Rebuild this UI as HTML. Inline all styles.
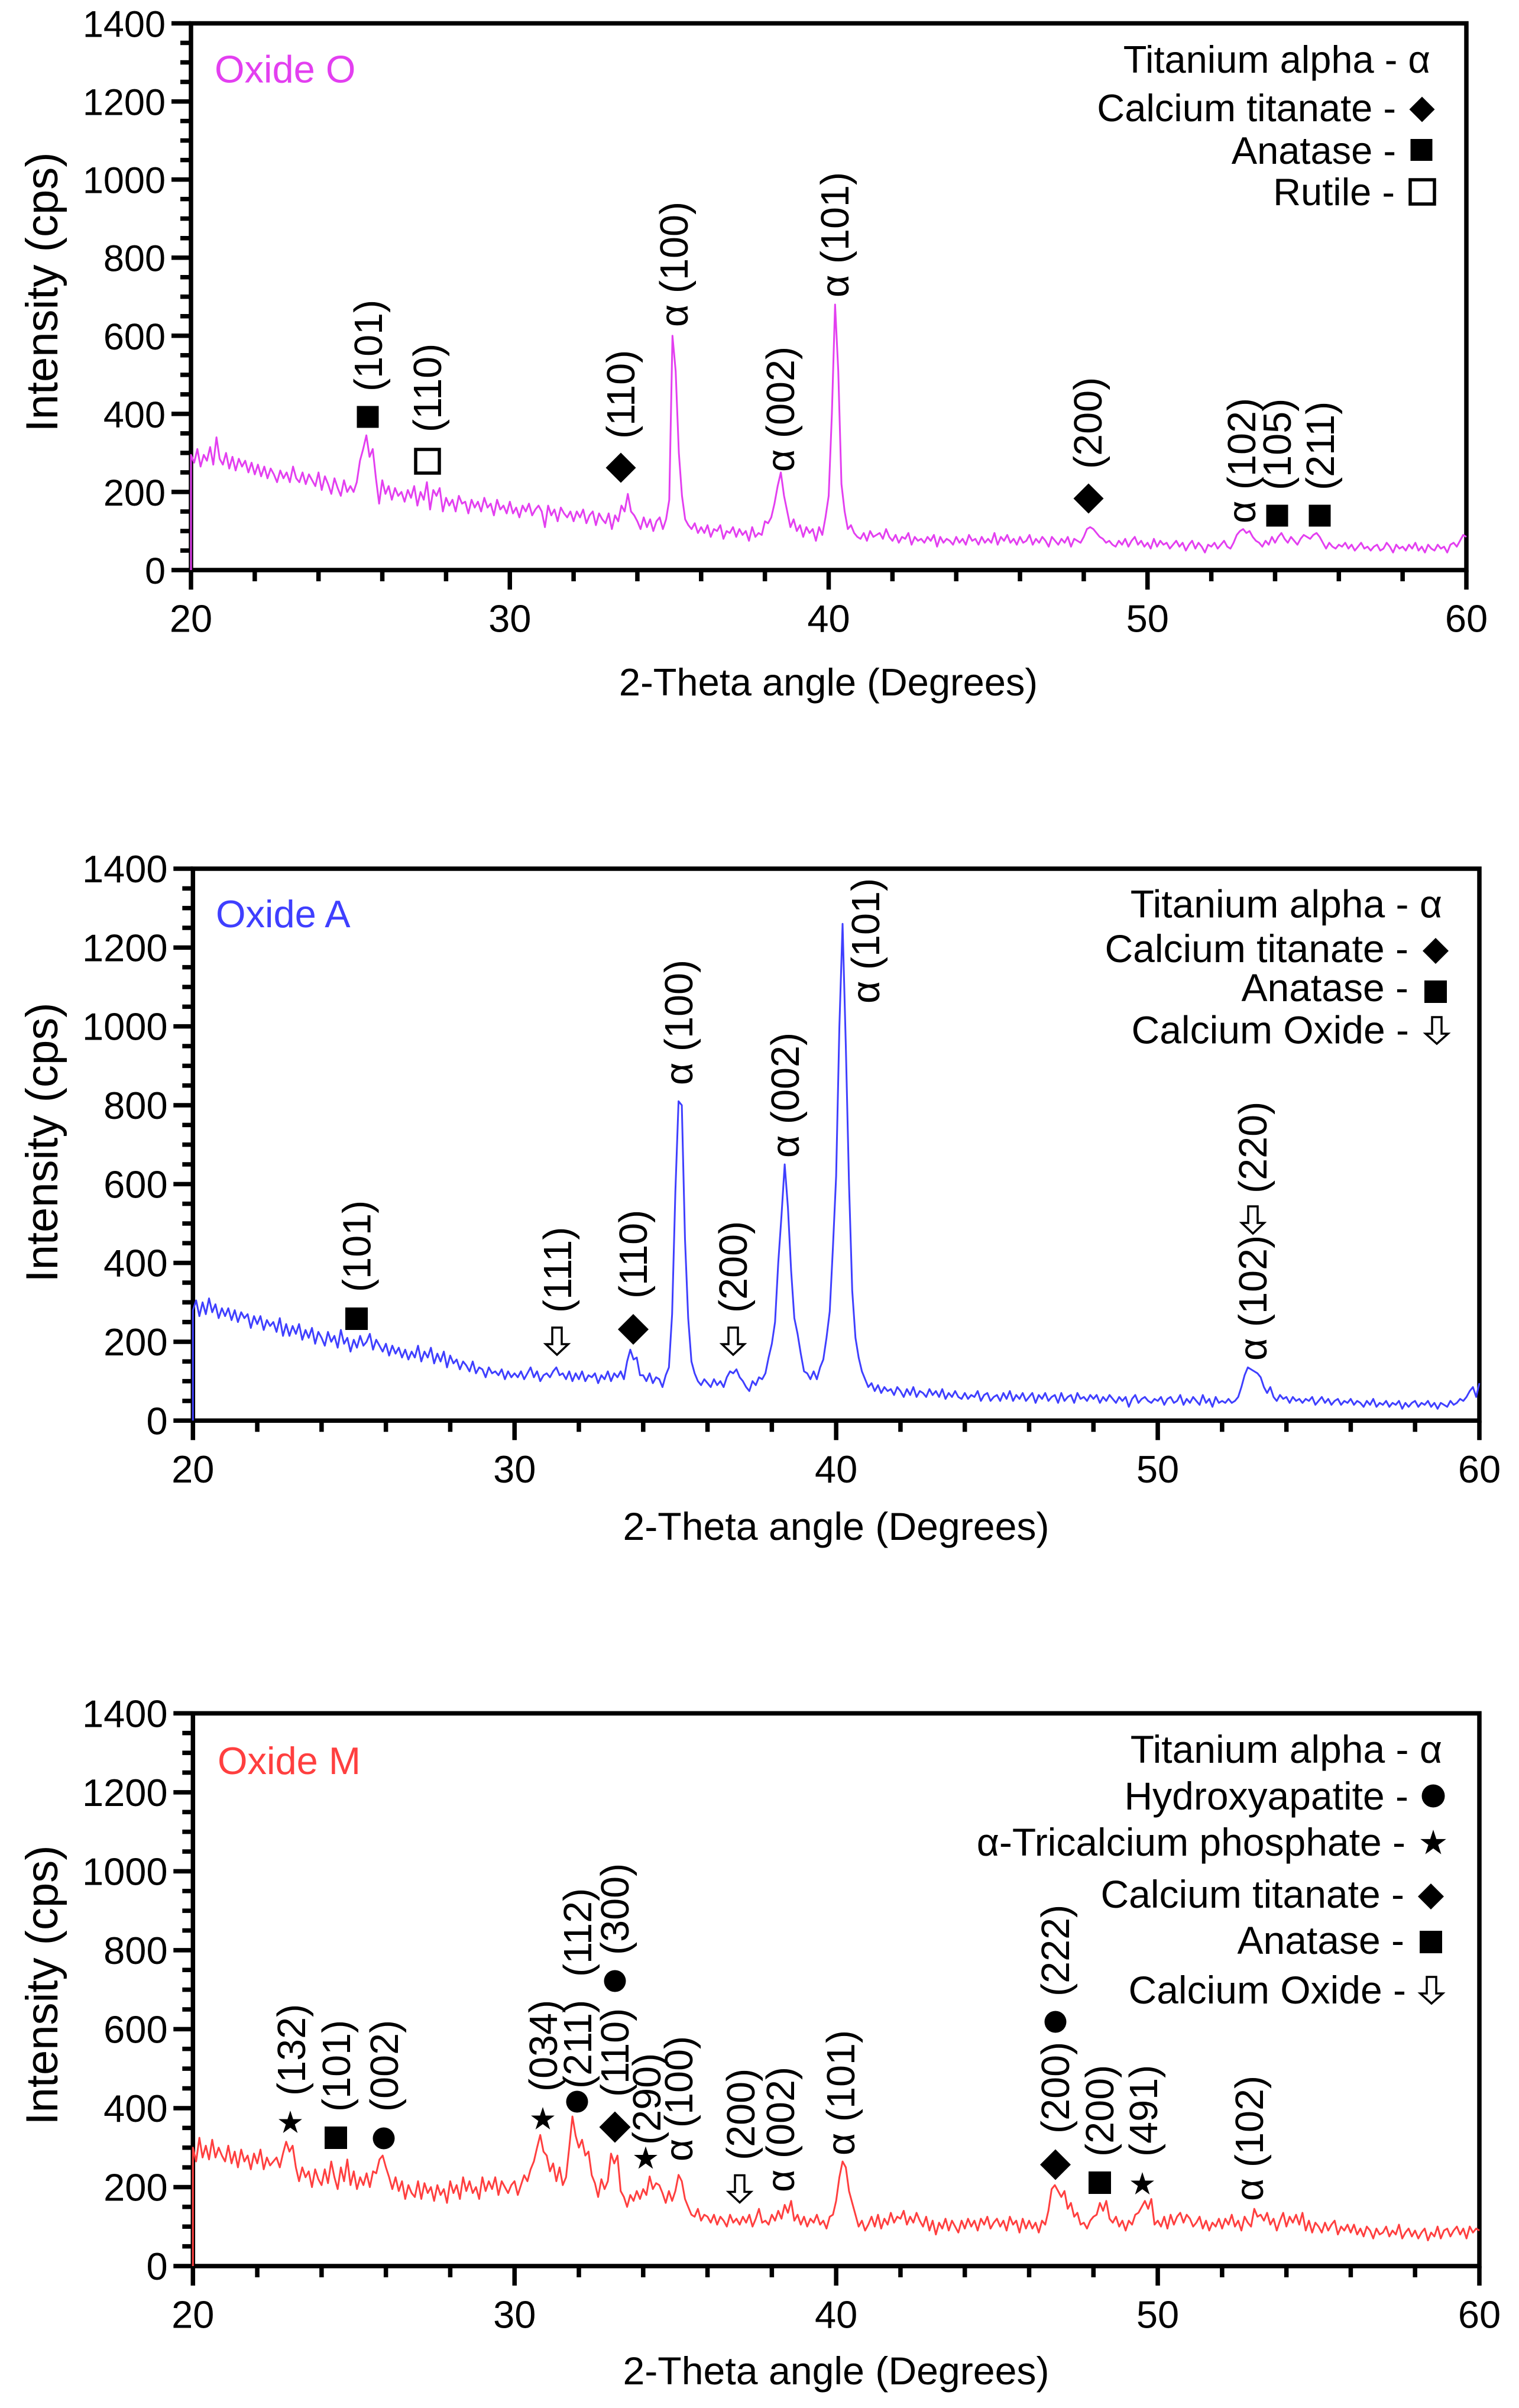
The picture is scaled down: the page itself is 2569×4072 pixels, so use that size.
<!DOCTYPE html>
<html lang="en">
<head>
<meta charset="utf-8">
<title>XRD patterns of Oxide O, A and M</title>
<style>
html,body{margin:0;padding:0;background:#fff;}
svg{display:block;}
text{font-family:"Liberation Sans",Arial,sans-serif;font-size:65px;fill:#000;}
text[transform*="rotate"]{font-size:66.5px;}
text.title-y{font-size:76px;text-anchor:middle;}
.title-x{text-anchor:middle;}
.title-x.wide{font-size:66.2px;}
.leg{text-anchor:end;}
.leg.wide{font-size:66px;}
.arrow{fill:#fff;stroke:#000;stroke-width:3.5;stroke-linejoin:miter;}
.open{fill:#fff;stroke:#000;stroke-width:5.5;}
</style>
</head>
<body>
<svg xmlns="http://www.w3.org/2000/svg" width="2569" height="4072" viewBox="0 0 2569 4072">
<rect width="2569" height="4072" fill="#fff"/>

<!-- PANEL O -->
<g id="chart-o"></g>
<g>
<text x="363" y="139.5" fill="#e33ff0" style="fill:#e33ff0">Oxide O</text>
<text class="title-y" transform="translate(97,494) rotate(-90)">Intensity (cps)</text>
<text class="title-x" x="1401" y="1176">2-Theta angle (Degrees)</text>
</g>
<g>
<text transform="translate(646,662) rotate(-90)">(101)</text>
<rect x="603.5" y="686.5" width="37" height="37"/>
<text transform="translate(746,731) rotate(-90)">(110)</text>
<rect class="open" x="703" y="760" width="40" height="40"/>
<text transform="translate(1073,742) rotate(-90)">(110)</text>
<polygon transform="translate(1050,791) scale(25.5)" points="0,-1 1,0 0,1 -1,0"/>
<text transform="translate(1163,553) rotate(-90)">α (100)</text>
<text transform="translate(1343,798) rotate(-90)">α (002)</text>
<text transform="translate(1435,503) rotate(-90)">α (101)</text>
<text transform="translate(1863,793) rotate(-90)">(200)</text>
<polygon transform="translate(1841,843) scale(25.5)" points="0,-1 1,0 0,1 -1,0"/>
<text transform="translate(2123,885) rotate(-90)">α (102)</text>
<text transform="translate(2183,829) rotate(-90)">(105)</text>
<rect x="2141.5" y="853.5" width="37" height="37"/>
<text transform="translate(2256,829) rotate(-90)">(211)</text>
<rect x="2213.5" y="853.5" width="37" height="37"/>
</g>
<g>
<text class="leg" x="2419" y="123">Titanium alpha - α</text>
<text class="leg" x="2361" y="205">Calcium titanate -</text>
<polygon transform="translate(2405,185) scale(21.5)" points="0,-1 1,0 0,1 -1,0"/>
<text class="leg" x="2361" y="277">Anatase -</text>
<rect x="2385.5" y="235" width="37" height="37"/>
<text class="leg" x="2359" y="347">Rutile -</text>
<rect class="open" x="2385" y="304" width="41" height="41"/>
</g>

<!-- PANEL A -->
<g id="chart-a"></g>
<g>
<text x="365" y="1568" style="fill:#3f3fff">Oxide A</text>
<text class="title-y" transform="translate(97,1932) rotate(-90)">Intensity (cps)</text>
<text class="title-x wide" x="1414" y="2604">2-Theta angle (Degrees)</text>
</g>
<g>
<text transform="translate(626.5,2185) rotate(-90)">(101)</text>
<rect x="584" y="2211" width="38" height="38"/>
<text transform="translate(966,2220) rotate(-90)">(111)</text>
<path class="arrow" transform="translate(942,2245)" d="M-8,0H8V28H19L0,46L-19,28H-8Z"/>
<text transform="translate(1094,2196) rotate(-90)">(110)</text>
<polygon transform="translate(1071,2248) scale(26)" points="0,-1 1,0 0,1 -1,0"/>
<text transform="translate(1171,1835) rotate(-90)">α (100)</text>
<text transform="translate(1263,2220) rotate(-90)">(200)</text>
<path class="arrow" transform="translate(1240,2245)" d="M-8,0H8V28H19L0,46L-19,28H-8Z"/>
<text transform="translate(1351,1958) rotate(-90)">α (002)</text>
<text transform="translate(1487,1697) rotate(-90)">α (101)</text>
<text transform="translate(2142,2301) rotate(-90)">α (102)</text>
<path class="arrow" transform="translate(2119,2040)" d="M-8,0H8V28H19L0,46L-19,28H-8Z"/>
<text transform="translate(2142,2018) rotate(-90)">(220)</text>
</g>
<g>
<text class="leg wide" x="2439" y="1551.5">Titanium alpha - α</text>
<text class="leg wide" x="2382" y="1627">Calcium titanate -</text>
<polygon transform="translate(2428,1608) scale(22)" points="0,-1 1,0 0,1 -1,0"/>
<text class="leg wide" x="2382" y="1693">Anatase -</text>
<rect x="2409" y="1658" width="38" height="38"/>
<text class="leg wide" x="2383" y="1764.5">Calcium Oxide -</text>
<path class="arrow" transform="translate(2430,1720)" d="M-8,0H8V28H19L0,45L-19,28H-8Z"/>
</g>

<!-- PANEL M -->
<g id="chart-m"></g>
<g>
<text x="368" y="3000" style="fill:#ff3f3f">Oxide M</text>
<text class="title-y" transform="translate(97,3357) rotate(-90)">Intensity (cps)</text>
<text class="title-x wide" x="1414" y="4032">2-Theta angle (Degrees)</text>
</g>
<g>
<text transform="translate(516,3544) rotate(-90)">(132)</text>
<polygon transform="translate(491,3590) scale(21)" points="0,-1 .225,-.309 .951,-.309 .363,.118 .588,.809 0,.382 -.588,.809 -.363,.118 -.951,-.309 -.225,-.309"/>
<text transform="translate(592,3571) rotate(-90)">(101)</text>
<rect x="549" y="3596" width="38" height="38"/>
<text transform="translate(673,3571) rotate(-90)">(002)</text>
<circle cx="649" cy="3616" r="18.5"/>
<text transform="translate(942,3537) rotate(-90)">(034)</text>
<polygon transform="translate(918,3584) scale(21)" points="0,-1 .225,-.309 .951,-.309 .363,.118 .588,.809 0,.382 -.588,.809 -.363,.118 -.951,-.309 -.225,-.309"/>
<text transform="translate(1000,3532) rotate(-90)">(211)</text>
<text transform="translate(1000,3343) rotate(-90)">(112)</text>
<circle cx="976" cy="3554" r="18.5"/>
<text transform="translate(1063,3546) rotate(-90)">(110)</text>
<text transform="translate(1063,3306) rotate(-90)">(300)</text>
<circle cx="1040" cy="3350" r="18.5"/>
<polygon transform="translate(1040,3597) scale(26.5)" points="0,-1 1,0 0,1 -1,0"/>
<text transform="translate(1117,3627) rotate(-90)">(290)</text>
<polygon transform="translate(1092,3650.5) scale(21)" points="0,-1 .225,-.309 .951,-.309 .363,.118 .588,.809 0,.382 -.588,.809 -.363,.118 -.951,-.309 -.225,-.309"/>
<text transform="translate(1171,3655) rotate(-90)">α (100)</text>
<text transform="translate(1276,3653) rotate(-90)">(200)</text>
<path class="arrow" transform="translate(1251,3678.5)" d="M-8,0H8V28H19L0,46L-19,28H-8Z"/>
<text transform="translate(1343,3707) rotate(-90)">α (002)</text>
<text transform="translate(1445,3645) rotate(-90)">α (101)</text>
<text transform="translate(1808,3376) rotate(-90)">(222)</text>
<circle cx="1785" cy="3419" r="18.5"/>
<text transform="translate(1808,3608) rotate(-90)">(200)</text>
<polygon transform="translate(1785,3660.5) scale(26)" points="0,-1 1,0 0,1 -1,0"/>
<text transform="translate(1883,3647) rotate(-90)">(200)</text>
<rect x="1841" y="3672" width="38" height="38"/>
<text transform="translate(1957,3647) rotate(-90)">(491)</text>
<polygon transform="translate(1932,3694) scale(21)" points="0,-1 .225,-.309 .951,-.309 .363,.118 .588,.809 0,.382 -.588,.809 -.363,.118 -.951,-.309 -.225,-.309"/>
<text transform="translate(2136,3722) rotate(-90)">α (102)</text>
</g>
<g>
<text class="leg wide" x="2439" y="2981">Titanium alpha - α</text>
<text class="leg wide" x="2382" y="3060">Hydroxyapatite -</text>
<circle cx="2424" cy="3037" r="19.5"/>
<text class="leg wide" x="2377" y="3138">α-Tricalcium phosphate -</text>
<polygon transform="translate(2424,3117) scale(23)" points="0,-1 .225,-.309 .951,-.309 .363,.118 .588,.809 0,.382 -.588,.809 -.363,.118 -.951,-.309 -.225,-.309"/>
<text class="leg wide" x="2375" y="3226">Calcium titanate -</text>
<polygon transform="translate(2420,3207) scale(22)" points="0,-1 1,0 0,1 -1,0"/>
<text class="leg wide" x="2375" y="3304">Anatase -</text>
<rect x="2401" y="3265" width="38" height="38"/>
<text class="leg wide" x="2378" y="3388">Calcium Oxide -</text>
<path class="arrow" transform="translate(2421,3343)" d="M-8,0H8V28H19L0,45L-19,28H-8Z"/>
</g>
</svg>

<script>
const xTickLabels = [20, 30, 40, 50, 60];
const yTickLabels = [0, 200, 400, 600, 800, 1000, 1200, 1400];
const xMinorStep = 2;
const yMinorStep = 50;
const thetaStart = 20;
const thetaStep = 0.1;
const baselineIntensity = 0;

const oxideOIntensity = [
295,275,310,265,295,280,315,270,340,285,
270,300,260,290,255,285,265,280,250,275,
245,270,240,265,235,260,245,225,255,235,
250,225,265,235,225,250,220,245,230,215,
250,205,240,220,195,235,210,190,230,200,
215,200,225,280,310,345,290,310,235,170,
230,195,215,180,210,190,200,175,205,185,
215,165,200,180,225,155,205,190,210,150,
185,165,180,150,190,170,175,145,180,160,
175,150,185,160,170,140,180,155,165,145,
175,145,160,135,165,150,170,140,155,165,
150,110,165,140,155,125,160,145,135,150,
125,150,135,155,120,140,150,115,145,130,
120,145,105,140,125,165,150,195,150,140,
125,105,135,110,130,100,125,135,105,130,
180,600,510,300,190,130,115,105,120,95,
110,95,115,85,105,100,115,80,100,95,
110,85,105,90,100,75,110,85,95,90,
125,120,135,170,215,250,190,150,110,130,
100,115,85,110,95,105,75,110,90,135,
190,400,680,510,220,150,105,115,95,85,
80,95,75,100,85,90,95,80,105,85,
75,90,70,85,80,95,65,85,75,80,
70,85,75,90,60,85,70,80,75,65,
85,70,80,65,90,75,80,65,85,70,
80,70,95,65,85,75,90,70,80,65,
85,70,75,90,65,80,70,85,75,60,
85,75,65,80,70,85,60,80,75,70,
85,105,110,105,95,85,80,70,75,65,
60,75,65,80,60,75,85,65,75,60,
70,55,80,60,75,65,70,55,65,75,
60,70,50,65,75,55,70,60,45,65,
60,70,55,65,75,60,55,70,90,100,
105,95,100,85,75,70,60,75,65,85,
70,85,95,80,70,85,75,65,80,90,
85,80,90,95,85,70,55,70,60,55,
65,60,70,55,65,50,60,70,55,60,
50,60,65,50,55,70,60,45,65,55,
60,50,65,55,70,50,60,45,65,55,
50,65,55,60,45,65,70,60,75,90,
85];

const oxideAIntensity = [
280,305,265,300,270,310,275,295,260,285,
265,285,255,280,250,275,260,270,235,265,
245,265,230,255,240,250,225,260,215,245,
215,240,220,245,205,230,210,235,195,225,
210,190,225,200,215,185,230,195,210,175,
205,185,215,190,200,220,180,205,190,175,
195,165,190,170,185,160,180,155,175,160,
190,150,175,160,185,145,170,150,175,135,
165,145,155,130,150,140,125,150,120,135,
130,110,135,120,125,115,130,105,125,110,
120,110,125,105,120,135,110,125,100,115,
120,110,125,135,115,120,105,125,100,120,
105,125,100,115,110,120,95,115,105,125,
100,120,110,125,105,150,180,155,160,115,
115,100,120,95,110,105,85,115,135,270,
580,810,800,460,260,150,120,100,90,105,
95,85,105,90,100,85,110,125,120,130,
110,100,85,75,100,90,110,105,120,160,
195,250,400,520,650,540,380,260,220,170,
125,120,105,125,105,135,155,210,277,440,
620,1000,1260,950,600,330,210,160,125,105,
85,95,75,90,70,85,75,80,65,85,
75,60,80,65,85,60,75,70,60,80,
65,75,60,80,55,70,60,75,60,55,
70,55,65,60,75,50,65,70,50,60,
65,50,70,55,75,50,65,55,70,50,
60,70,45,65,55,70,50,60,65,45,
70,50,60,65,45,70,55,60,50,65,
55,65,45,60,50,65,55,45,60,50,
60,35,55,65,45,55,60,50,45,55,
50,60,40,55,60,45,50,65,40,55,
45,60,50,40,65,45,55,35,60,45,
50,45,55,45,50,60,85,115,135,130,
125,120,110,85,70,85,60,50,65,55,
60,45,60,50,55,45,55,50,60,40,
50,60,45,55,40,50,55,40,50,45,
55,40,50,45,35,50,40,55,35,45,
40,50,35,45,40,50,30,45,35,45,
50,35,45,40,50,35,45,30,45,40,
35,50,40,45,55,50,60,75,85,60,
95];

const oxideMIntensity = [
300,265,325,275,305,270,320,275,300,280,
265,305,260,290,250,295,265,280,245,285,
260,295,245,275,255,265,275,250,285,315,
290,305,250,215,250,225,240,200,245,220,
205,245,210,265,225,195,250,215,270,205,
240,195,225,205,235,200,240,235,270,280,
250,225,195,225,190,215,170,205,185,175,
215,170,210,185,200,165,205,180,195,160,
215,185,205,170,225,190,215,185,200,170,
225,190,215,195,225,180,215,200,185,205,
215,180,205,230,215,245,265,300,332,290,
280,240,260,215,250,205,225,300,379,330,
300,320,280,290,230,210,175,220,195,215,
285,260,280,190,175,150,180,165,190,170,
195,180,227,195,210,205,185,160,190,165,
190,231,215,170,150,130,125,145,115,130,
125,110,130,105,125,115,100,130,110,120,
105,125,110,130,100,120,145,110,115,105,
130,115,140,120,155,135,165,115,130,105,
125,100,120,110,130,105,115,95,125,130,
165,225,265,250,190,160,130,100,115,90,
105,125,100,130,95,120,105,135,110,125,
120,140,105,125,110,135,115,100,125,90,
115,80,110,95,120,90,115,100,85,115,
95,120,100,115,90,120,105,125,95,110,
120,100,115,90,125,105,115,85,120,95,
115,95,110,85,115,105,140,195,205,190,
175,190,145,160,125,135,105,110,95,115,
125,130,160,140,165,120,110,125,100,115,
90,115,105,130,135,150,165,145,170,105,
115,100,125,95,130,105,125,135,110,130,
120,100,110,125,95,115,90,110,100,120,
95,120,105,130,100,115,90,125,110,100,
145,125,130,115,135,105,120,90,115,135,
100,125,110,130,105,135,90,115,85,110,
100,85,110,90,105,115,80,100,90,105,
85,105,80,95,75,100,90,70,95,80,
85,100,75,90,80,105,70,85,95,75,
90,70,85,95,65,85,75,100,70,90,
95,75,90,100,80,95,70,100,85,95,
90];

const SVG_NS = 'http://www.w3.org/2000/svg';

function svgEl(tag, parent) {
  const el = document.createElementNS(SVG_NS, tag);
  parent.appendChild(el);
  return el;
}

function drawChart(groupId, values, color, box) {
  const g = document.getElementById(groupId);
  const xMin = xTickLabels[0];
  const xMax = xTickLabels[xTickLabels.length - 1];
  const yMin = yTickLabels[0];
  const yMax = yTickLabels[yTickLabels.length - 1];
  const xScale = function (v) { return box.left + (v - xMin) / (xMax - xMin) * (box.right - box.left); };
  const yScale = function (v) { return box.bottom - (v - yMin) / (yMax - yMin) * (box.bottom - box.top); };

  const frame = svgEl('rect', g);
  
  
  frame.setAttribute('x', box.left);
  frame.setAttribute('y', box.top);
  frame.setAttribute('width', box.right - box.left);
  frame.setAttribute('height', box.bottom - box.top);
  frame.setAttribute('fill', 'none');
  frame.setAttribute('stroke', '#000');
  frame.setAttribute('stroke-width', '7.5');

  for (let v = yMin; v <= yMax; v += yMinorStep) {
    const major = yTickLabels.indexOf(v) >= 0;
    const tick = svgEl('line', g);
    
    
    tick.setAttribute('x1', box.left - (major ? 33 : 18));
    tick.setAttribute('x2', box.left);
    tick.setAttribute('y1', yScale(v));
    tick.setAttribute('y2', yScale(v));
    tick.setAttribute('stroke', '#000');
    tick.setAttribute('stroke-width', '7.5');
  }
  yTickLabels.forEach(function (v) {
    const label = svgEl('text', g);
    
    
    label.setAttribute('x', box.yLabelX);
    label.setAttribute('y', yScale(v) + 23);
    label.setAttribute('text-anchor', 'end');
    label.setAttribute('style', 'font-size:' + box.yLabelSize + 'px');
    label.textContent = String(v);
  });

  for (let v = xMin; v <= xMax; v += xMinorStep) {
    const major = xTickLabels.indexOf(v) >= 0;
    const tick = svgEl('line', g);
    
    
    tick.setAttribute('x1', xScale(v));
    tick.setAttribute('x2', xScale(v));
    tick.setAttribute('y1', box.bottom);
    tick.setAttribute('y2', box.bottom + (major ? 33 : 19));
    tick.setAttribute('stroke', '#000');
    tick.setAttribute('stroke-width', '7.5');
  }
  xTickLabels.forEach(function (v) {
    const label = svgEl('text', g);
    
    
    label.setAttribute('x', xScale(v));
    label.setAttribute('y', box.bottom + 104.5);
    label.setAttribute('text-anchor', 'middle');
    label.textContent = String(v);
  });

  let d = 'M' + xScale(thetaStart).toFixed(1) + ' ' + yScale(baselineIntensity).toFixed(1);
  values.forEach(function (v, i) {
    d += 'L' + xScale(thetaStart + i * thetaStep).toFixed(1) + ' ' + yScale(v).toFixed(1);
  });
  const line = svgEl('path', g);
  
  
  line.setAttribute('d', d);
  line.setAttribute('fill', 'none');
  line.setAttribute('stroke', color);
  line.setAttribute('stroke-width', '3');
  line.setAttribute('stroke-linejoin', 'round');
}

drawChart('chart-o', oxideOIntensity, '#e33ff0', {left: 323, right: 2480, top: 39.5, bottom: 964, yLabelX: 280, yLabelSize: 63});
drawChart('chart-a', oxideAIntensity, '#3f3fff', {left: 326.3, right: 2502, top: 1469, bottom: 2402.3, yLabelX: 283.6, yLabelSize: 65});
drawChart('chart-m', oxideMIntensity, '#ff3f3f', {left: 326.3, right: 2502, top: 2897.3, bottom: 3832, yLabelX: 283.6, yLabelSize: 65});
</script>
</body>
</html>
